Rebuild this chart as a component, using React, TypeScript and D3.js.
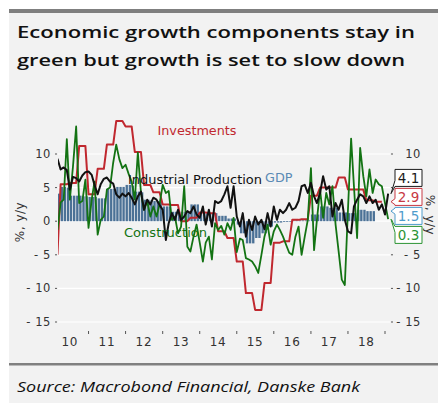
import React from 'react';
import * as d3 from 'd3';

const W = 438;
const H = 403;

// Monthly series start in March 2010
const FIRST_YEAR = 2010;
const FIRST_MONTH_INDEX = 2;

const industrialProduction = [
  9.3, 7.7, 8.0, 7.6, 4.7, 6.6, 6.4, 5.9, 6.8, 7.3,
  7.4, 6.9, 5.4, 4.0, 5.5, 6.3, 6.5, 5.9, 5.6, 4.0, 3.5, 4.1,
  3.7, 4.2, 3.5, 2.5, 3.7, 4.4, 1.7, 3.2, 2.5, 3.5, 3.2, 2.4,
  1.7, -2.8, -0.3, 1.2, 0.2, 1.7, 0.2, 0.7, 1.5, 1.2, 2.2, 1.0,
  0.5, 2.2, -0.5, 1.7, -0.8, 3.0, 2.7, 3.0, 4.0, 5.2, 2.0, 5.2,
  0.7, -0.8, 1.2, -2.3, 0.2, -1.3, 0.7, -0.5, 0.2, -1.2, 1.2, -0.8,
  2.2, 0.2, 1.7, 1.2, 1.7, 2.7, 1.7, 2.0, 3.0, 5.2, 5.4, 4.2,
  5.7, 3.7, 2.7, 4.2, 6.7, 4.7, 5.2, 0.7, 2.7, 1.7, 3.2, 0.2,
  -1.5, -1.8, 2.2, 3.2, 4.0, 3.7, 2.7, 3.7, 2.7, 3.2, 1.7, 2.5,
  1.0, 4.1,
];

const construction = [
  -1.3, 2.8, 3.2, 12.2, 3.2, 8.2, 14.1, 2.7, 3.0, 6.2,
  -1.0, 3.2, 5.9, -2.0, 0.2, 0.7, 4.7, 5.0, 8.7, 11.4, 9.2, 7.9,
  8.4, 7.0, 5.9, 3.2, 10.2, 4.2, 1.7, 3.0, 0.7, 2.2, 0.7, 2.5,
  5.4, 4.2, 4.5, 0.2, 0.7, -1.8, -0.8, 5.2, -3.8, -4.5, -2.3, -0.5,
  -3.2, -6.0, -3.2, -2.3, -5.7, -0.3, -1.3, -0.7, -2.0, -0.3, -1.3, 0.5,
  -4.6, -2.6, -2.8, -5.5, -5.7, -6.0, -6.7, -7.7, -5.0, -2.3, -0.5, -3.5,
  -1.5, -0.5, -1.3, -2.3, -3.5, -4.7, -5.0, -2.3, -0.8, -5.0, -2.3, 0.2,
  7.9, -4.3, 0.2, 4.7, 0.5, 4.2, 2.5, 5.2, -0.5, -4.5, -8.7, -9.5,
  1.7, 12.3, 5.2, -2.5, 10.9, 6.7, 3.7, 7.7, 4.2, 6.2, 5.5, 5.2,
  2.7, 0.3,
];

const gdp = [
  4.1, 5.1, 5.1, 5.0, 3.8, 3.8, 3.8, 3.8, 3.7, 3.7,
  3.6, 3.6, 3.6, 3.4, 3.4, 3.4, 4.8, 4.8, 4.8, 5.1, 5.1, 5.1,
  5.4, 5.4, 5.3, 4.4, 4.4, 4.3, 3.2, 3.2, 3.1, 3.0, 3.0, 2.9,
  2.2, 2.2, 2.2, 1.4, 1.4, 1.4, 1.4, 1.4, 1.4, 2.5, 2.5, 2.5,
  1.2, 1.2, 1.2, 1.2, 1.2, 1.2, 0.8, 0.8, 0.8, 0.4, 0.4, 0.4,
  -0.5, -1.8, -1.8, -3.3, -3.3, -3.3, -2.5, -2.5, -1.8, -1.8, -0.8, -0.8,
  -0.2, -0.2, -0.2, -0.1, -0.1, -0.1, 0.0, 0.0, 0.1, 0.1, 0.1, 0.1,
  1.0, 1.0, 1.0, 2.2, 2.2, 2.2, 2.0, 2.0, 2.0, 1.3, 1.3, 1.3,
  1.2, 1.2, 1.2, 1.7, 1.7, 1.7, 1.5, 1.5, 1.5,
];

// Quarterly, Q1 2010 .. Q4 2018
const investmentsQuarterly = [
  -4.9, 5.5, 5.7, 11.2,
  4.0, 7.8, 11.4, 14.9,
  14.1, 10.3, 5.4, 4.3,
  2.5, 2.4, 0.0, 0.5,
  1.3, 1.2, -1.5, -2.5,
  -6.0, -10.7, -13.2, -9.2,
  -3.2, -3.0, 0.2, 0.3,
  3.8, 5.0, 5.0, 6.5,
  4.7, 4.7, 3.1, 2.9,
];

const yTicks = [-15, -10, -5, 0, 5, 10];
const yearLabels = ['10', '11', '12', '13', '14', '15', '16', '17', '18'];
const years = [2010, 2011, 2012, 2013, 2014, 2015, 2016, 2017, 2018];

const COLORS = {
  ip: '#111111',
  inv: '#c0282f',
  con: '#137313',
  gdp: '#4b7196',
  gdpText: '#5a8ab5',
  boxIp: '#1a1a1a',
  boxInv: '#c83a44',
  boxGdp: '#4f9ccc',
  boxCon: '#2c9434',
  grid: '#ffffff',
  bg: '#f2f2f2',
  axis: '#333333',
};

const PLOT = { left: 58, right: 390, top: 100, bottom: 330 };

const x = d3
  .scaleTime()
  .domain([new Date(2010, 0, 1), new Date(2019, 0, 1)])
  .range([51.5, 385]);
const y = d3.scaleLinear().domain([-15, 10]).range([322, 154]);

type Pt = [Date, number];

const monthly = (vals: number[]): Pt[] =>
  vals.map((v, i) => [new Date(FIRST_YEAR, FIRST_MONTH_INDEX + i, 1), v]);

const quarterlySteps = (vals: number[]): Pt[] => {
  const out: Pt[] = [];
  vals.forEach((v, q) => {
    for (let k = 0; k < 3; k++) out.push([new Date(FIRST_YEAR, q * 3 + k, 1), v]);
  });
  return out;
};

const line = d3
  .line<Pt>()
  .x((d) => x(d[0]))
  .y((d) => y(d[1]));

const ipPts = monthly(industrialProduction);
const conPts = monthly(construction);
const gdpPts = monthly(gdp);
const invPts = quarterlySteps(investmentsQuarterly);

const AXIS_FONT = '"DejaVu Sans", sans-serif';
const LABEL_FONT = '"DejaVu Sans", sans-serif';

export default function App() {
  const last = [
    { v: industrialProduction[industrialProduction.length - 1], c: COLORS.boxIp },
    { v: investmentsQuarterly[investmentsQuarterly.length - 1], c: COLORS.boxInv },
    { v: gdp[gdp.length - 1], c: COLORS.boxGdp },
    { v: construction[construction.length - 1], c: COLORS.boxCon },
  ].sort((a, b) => b.v - a.v);
  const desired = last.map((d) => y(d.v));
  const mean = d3.mean(desired) as number;
  const spacing = 19;
  const boxW = 27;
  const boxH = 17;
  const boxX = 395;
  const tipX = 391;

  const boxes = last.map((d, i) => {
    const cy = mean + (i - (last.length - 1) / 2) * spacing;
    const top = cy - boxH / 2;
    const bottom = cy + boxH / 2;
    const vy = y(d.v);
    const a1 = Math.max(top, Math.min(bottom - 6, vy - 3));
    const a2 = a1 + 6;
    const p = `M${boxX},${top} H${boxX + boxW} V${bottom} H${boxX} V${a2} L${tipX},${vy} L${boxX},${a1} Z`;
    return { ...d, cy, top, bottom, p };
  });
  const boxTop = boxes[0].top;
  const boxBottom = boxes[boxes.length - 1].bottom;
  // right-axis labels that the value boxes cover are not drawn
  const rightTicks = yTicks.filter((t) => y(t) + 6 < boxTop || y(t) - 6 > boxBottom);

  const bw = x(new Date(2010, 1, 1)) - x(new Date(2010, 0, 1));

  return (
    <svg
      width={W}
      height={H}
      style={{ position: 'absolute', left: 0, top: 0, display: 'block' }}
    >
      <rect x={9} y={9} width={W - 9} height={H - 9} fill={COLORS.bg} />
      <rect x={9} y={9} width={W - 9} height={4} fill="#7f7f7f" />
      <rect x={9} y={363} width={W - 9} height={2.5} fill="#808080" />

      <g fontFamily='"Open Sans", sans-serif' fontWeight={600} fontSize={16.5} fill="#111">
        <text x={17} y={37.5} textLength={398} lengthAdjust="spacingAndGlyphs">
          Economic growth components stay in
        </text>
        <text x={17} y={66} textLength={388} lengthAdjust="spacingAndGlyphs">
          green but growth is set to slow down
        </text>
      </g>

      {/* gridlines */}
      {yTicks.map((t) => (
        <line
          key={'g' + t}
          x1={PLOT.left}
          x2={PLOT.right}
          y1={y(t)}
          y2={y(t)}
          stroke={COLORS.grid}
          strokeWidth={1.2}
        />
      ))}

      <g fontFamily={AXIS_FONT} fontSize={11.5} fill={COLORS.axis}>
        {yTicks.map((t) => (
          <g key={'l' + t}>
            <text x={51} y={y(t) + 4} textAnchor="end" letterSpacing={0.6}>
              {t < 0 ? '- ' + Math.abs(t) : String(t)}
            </text>
            <line x1={55} x2={57} y1={y(t)} y2={y(t)} stroke="#555" strokeWidth={1} />
          </g>
        ))}
        {yTicks.map((t) => (
          <line key={'rt' + t} x1={391} x2={393} y1={y(t)} y2={y(t)} stroke="#555" strokeWidth={1} />
        ))}
        {rightTicks.map((t) => (
          <text key={'r' + t} x={421} y={y(t) + 4} textAnchor="end" letterSpacing={0.6}>
            {t < 0 ? '- ' + Math.abs(t) : String(t)}
          </text>
        ))}
        <text
          transform={`translate(24,222) rotate(-90)`}
          textAnchor="middle"
          fontSize={12}
          letterSpacing={0.5}
        >
          %, y/y
        </text>
        <text
          transform={`translate(426,215) rotate(90)`}
          textAnchor="middle"
          fontSize={12}
          letterSpacing={0.5}
        >
          %, y/y
        </text>
        {years.slice(1).concat([2019]).map((yr) => (
          <line
            key={'xt' + yr}
            x1={x(new Date(yr, 0, 1))}
            x2={x(new Date(yr, 0, 1))}
            y1={331}
            y2={334}
            stroke="#555"
            strokeWidth={1}
          />
        ))}
        {years.map((yr, i) => (
          <text
            key={'xl' + yr}
            x={x(new Date(yr, 6, 1))}
            y={346}
            textAnchor="middle"
            fontSize={12}
            letterSpacing={0.8}
          >
            {yearLabels[i]}
          </text>
        ))}
      </g>

      <defs>
        <clipPath id="plotClip">
          <rect x={PLOT.left} y={PLOT.top} width={PLOT.right - PLOT.left} height={PLOT.bottom - PLOT.top} />
        </clipPath>
      </defs>

      <g clipPath="url(#plotClip)">
        {gdpPts.map((d, i) => {
          const x0 = x(d[0]);
          const y0 = y(0);
          const y1 = y(d[1]);
          const h = Math.max(0.8, Math.abs(y1 - y0));
          return (
            <rect
              key={'b' + i}
              x={x0}
              width={bw - 0.8}
              y={d[1] >= 0 ? y0 - h : y0}
              height={h}
              fill={COLORS.gdp}
            />
          );
        })}
        <path d={line(invPts) || ''} fill="none" stroke={COLORS.inv} strokeWidth={2} strokeLinejoin="round" />
        <path d={line(conPts) || ''} fill="none" stroke={COLORS.con} strokeWidth={1.8} strokeLinejoin="round" />
        <path d={line(ipPts) || ''} fill="none" stroke={COLORS.ip} strokeWidth={2} strokeLinejoin="round" />
      </g>

      <g fontFamily={LABEL_FONT} fontSize={12.5}>
        <text x={157.5} y={135} fill={COLORS.inv} textLength={79} lengthAdjust="spacingAndGlyphs">
          Investments
        </text>
        <text x={128} y={183.5} fill="#111" textLength={134} lengthAdjust="spacingAndGlyphs">
          Industrial Production
        </text>
        <text x={265} y={181.5} fill={COLORS.gdpText} textLength={27.5} lengthAdjust="spacingAndGlyphs">
          GDP
        </text>
        <text x={124} y={236.5} fill={COLORS.con} textLength={83} lengthAdjust="spacingAndGlyphs">
          Construction
        </text>
      </g>

      {boxes.map((b, i) => (
        <g key={'box' + i}>
          <path d={b.p} fill="#ffffff" stroke={b.c} strokeWidth={1} strokeLinejoin="round" />
          <text
            x={boxX + boxW / 2}
            y={b.cy + 4.8}
            textAnchor="middle"
            fontFamily={AXIS_FONT}
            fontSize={13.5}
            fill={b.c}
          >
            {b.v.toFixed(1)}
          </text>
        </g>
      ))}

      <text
        x={17}
        y={392}
        fontFamily='"Open Sans", sans-serif'
        fontStyle="italic"
        fontSize={14.5}
        fill="#111"
        textLength={343}
        lengthAdjust="spacingAndGlyphs"
      >
        Source: Macrobond Financial, Danske Bank
      </text>
    </svg>
  );
}
